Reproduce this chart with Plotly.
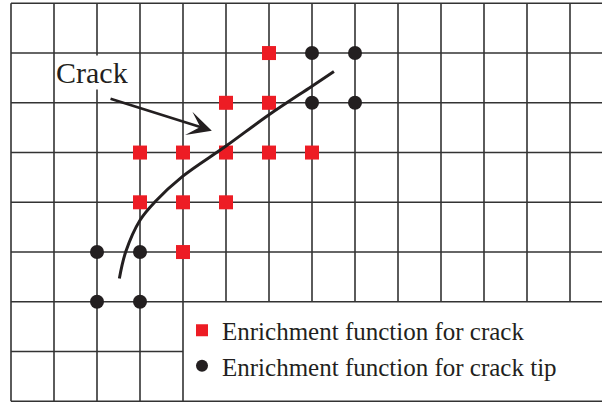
import plotly.graph_objects as go

# ---- grid structure (element edges) ----
n_cols = 13          # vertical grid lines at x = 0..13 (mesh continues to the right edge)
n_rows = 8           # horizontal grid lines at y = 0..8
legend_col = 4       # legend panel occupies x >= 4, y <= 2
legend_row = 2

# ---- enriched nodes ----
crack_nodes_x = [6, 5, 6, 3, 4, 5, 6, 7, 3, 4, 5, 4]
crack_nodes_y = [7, 6, 6, 5, 5, 5, 5, 5, 4, 4, 4, 3]
tip_nodes_x = [7, 8, 7, 8, 2, 3, 2, 3]
tip_nodes_y = [7, 7, 6, 6, 3, 3, 2, 2]

# ---- crack path ----
crack_path_x = [2.52, 2.67, 3.00, 3.35, 3.99, 5.00, 6.00, 6.99, 7.51]
crack_path_y = [2.47, 3.01, 3.64, 4.01, 4.52, 5.13, 5.76, 6.33, 6.63]

# ---- label and arrow ----
label_text = "Crack"
label_pos = (1.88, 6.60)
arrow_tail = (2.28, 6.09)
arrow_tip = (4.67, 5.44)

legend_labels = ["Enrichment function for crack", "Enrichment function for crack tip"]

RED = "#ED1C24"
BLACK = "#231F20"
GRID = "#333333"
FONT = "Liberation Serif"

X_RANGE = [-0.2558, 13.7442]
Y_RANGE = [-0.0342, 8.0663]

fig = go.Figure()

fig.add_trace(go.Scatter(
    x=crack_nodes_x, y=crack_nodes_y, mode="markers",
    marker=dict(symbol="square", size=14, color=RED),
    name=legend_labels[0],
))
fig.add_trace(go.Scatter(
    x=tip_nodes_x, y=tip_nodes_y, mode="markers",
    marker=dict(symbol="circle", size=14, color=BLACK),
    name=legend_labels[1],
))
fig.add_trace(go.Scatter(
    x=crack_path_x, y=crack_path_y, mode="lines",
    line=dict(color=BLACK, width=3, shape="spline", smoothing=1.0),
    showlegend=False, hoverinfo="skip",
))

shapes = []
line_style = dict(color=GRID, width=1.6)
for i in range(n_cols + 1):
    y0 = legend_row if i > legend_col else 0
    shapes.append(dict(type="line", xref="x", yref="y", x0=i, x1=i, y0=y0, y1=n_rows,
                       line=line_style, layer="below"))
for j in range(n_rows + 1):
    x1 = legend_col if 0 < j < legend_row else X_RANGE[1] + 1
    shapes.append(dict(type="line", xref="x", yref="y", x0=0, x1=x1, y0=j, y1=j,
                       line=line_style, layer="below"))

annotations = [
    dict(x=label_pos[0], y=label_pos[1], xref="x", yref="y", text=label_text,
         showarrow=False, font=dict(family=FONT, size=30, color=BLACK),
         bgcolor="white", borderpad=0),
    dict(x=arrow_tip[0], y=arrow_tip[1], xref="x", yref="y",
         ax=arrow_tail[0], ay=arrow_tail[1], axref="x", ayref="y",
         text="", showarrow=True, arrowhead=3, arrowsize=1.55, arrowwidth=2.6,
         arrowcolor=BLACK, standoff=0, startstandoff=0),
]

fig.update_layout(
    width=602, height=403,
    margin=dict(l=0, r=0, t=0, b=0),
    paper_bgcolor="white", plot_bgcolor="white",
    xaxis=dict(range=X_RANGE, visible=False, fixedrange=True),
    yaxis=dict(range=Y_RANGE, visible=False, fixedrange=True),
    shapes=shapes,
    annotations=annotations,
    showlegend=True,
    legend=dict(x=182 / 602, y=1 - 307.5 / 403, xanchor="left", yanchor="top",
                font=dict(family=FONT, size=25, color=BLACK),
                bgcolor="rgba(0,0,0,0)", borderwidth=0, itemsizing="constant",
                tracegroupgap=0),
    font=dict(family=FONT),
)

fig.write_html("out.html", config={"displayModeBar": False},
               post_script="document.body.style.margin='0';")
